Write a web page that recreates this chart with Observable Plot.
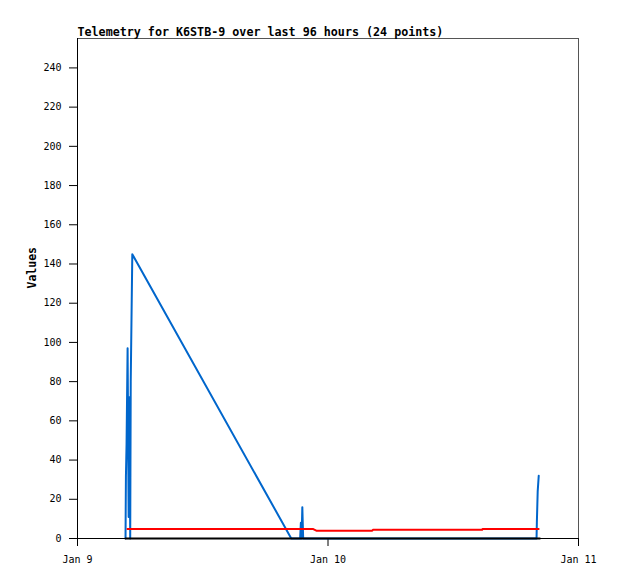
<!DOCTYPE html>
<html><head><meta charset="utf-8">
<script src="https://cdn.jsdelivr.net/npm/d3@7"></script>
<script src="https://cdn.jsdelivr.net/npm/@observablehq/plot@0.6"></script>
<style>body{margin:0;background:#fff;}</style>
</head><body><div id="chart"></div>
<script>
const title = "Telemetry for K6STB-9 over last 96 hours (24 points)";
const yLabel = "Values";
const startDate = "2024-01-09T00:00:00Z";
const xTickLabels = ["2024-01-09T00:00:00Z", "2024-01-10T00:00:00Z", "2024-01-11T00:00:00Z"];
const yTicks = [0, 20, 40, 60, 80, 100, 120, 140, 160, 180, 200, 220, 240];

// hours after Jan 9 00:00
const blueHours  = [4.60, 4.64, 4.70, 4.80, 4.90, 4.98, 5.05, 5.10, 5.25, 20.48, 21.33, 21.40, 21.47, 21.54, 21.62, 43.98, 44.01, 44.09, 44.19];
const blueValues = [0,    32,   48,   97,   11,   72,   0,    80,   145,  0,     0,     8,     0,     16,    0,     0,     8,     24,    32];
const redHours   = [4.79, 22.59, 22.88, 28.24, 28.30, 38.76, 38.82, 44.18];
const redValues  = [4.8,  4.8,   4.0,   4.0,   4.4,   4.4,   4.9,   4.9];
const blackHours = [4.60, 22.60, 44.30];
const blackValues= [0,    0,     0];

const t0 = new Date(startDate).getTime();
const toRows = (hs, vs) => hs.map((h, i) => ({t: new Date(t0 + h * 3600e3), v: vs[i]}));
const blue = toRows(blueHours, blueValues);
const red = toRows(redHours, redValues);
const black = toRows(blackHours, blackValues);
const xTicks = xTickLabels.map(d => new Date(d));

const chart = Plot.plot({
  width: 618, height: 579,
  marginLeft: 77, marginRight: 40, marginTop: 38, marginBottom: 41,
  style: {fontFamily: "'DejaVu Sans Mono', monospace", fontSize: "10px", background: "#fff", color: "#000"},
  x: {type: "utc", domain: [xTicks[0], xTicks[2]]},
  y: {domain: [0, 255]},
  marks: [
    Plot.frame({stroke: "#555"}),
    Plot.axisY({ticks: yTicks, tickSize: 8, tickPadding: 8, label: null}),
    Plot.axisX({ticks: xTicks, tickSize: 8, tickPadding: 9, tickFormat: d3.utcFormat("%b %-d"), label: null}),
    Plot.lineY(blue, {x: "t", y: "v", stroke: "#0066cc", strokeWidth: 2}),
    Plot.lineY(red, {x: "t", y: "v", stroke: "#ff0000", strokeWidth: 2}),
    Plot.lineY(black, {x: "t", y: "v", stroke: "#000", strokeWidth: 2}),
    Plot.ruleX([xTicks[0]], {stroke: "#000"}),
    Plot.ruleY([0], {stroke: "#000"}),
    Plot.text([title], {frameAnchor: "top-left", dy: -3, textAnchor: "start", lineAnchor: "bottom", fontWeight: "bold", fontSize: 11.7}),
    Plot.text([yLabel], {frameAnchor: "left", dx: -45, rotate: -90, fontWeight: "bold", fontSize: 11.5})
  ]
});
document.getElementById("chart").appendChild(chart);
</script>
</body></html>
